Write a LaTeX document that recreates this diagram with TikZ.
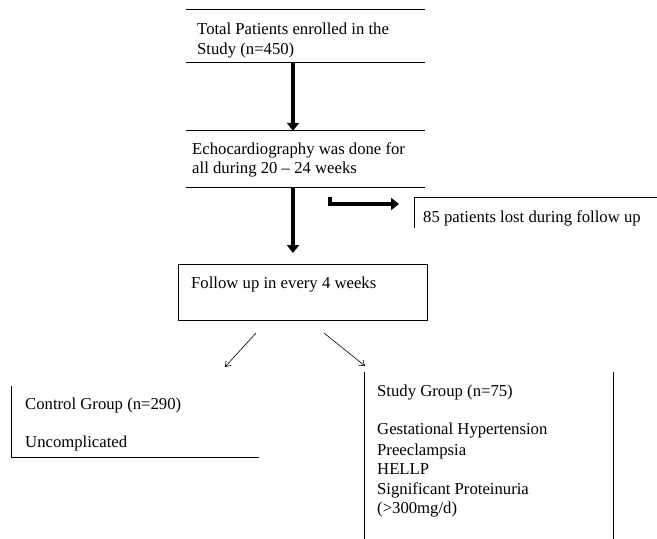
\documentclass[tikz,border=0pt]{standalone}
\usepackage{fontspec}
\setmainfont{Liberation Serif}
\usetikzlibrary{arrows.meta}
\begin{document}
\begin{tikzpicture}[x=1pt,y=-1pt,
  frame/.style={draw=none,minimum width=#1,inner sep=0pt},
  edge/.style={line width=0.8pt,black},
  lbl/.style={anchor=base west,inner sep=0pt,font=\fontsize{16.7}{19.7}\selectfont},
  thick arrow/.style={line width=4.6pt,-{Triangle[width=12pt,length=8pt]}},
  thin arrow/.style={line width=0.6pt,-{Straight Barb[length=5pt,width=7pt]}}]
\useasboundingbox (0,0) rectangle (657,539);
% invisible box frames
\node[frame=239,minimum height=52] (b1) at (305.5,36) {};
\node[frame=239,minimum height=56] (b2) at (305.5,159) {};
\node[frame=248,minimum height=55] (b3) at (303,292.5) {};
\node[frame=242,minimum height=30] (lost) at (536,213) {};
\node[frame=247,minimum height=71] (ctrl) at (135.5,421.5) {};
\node[frame=248,minimum height=167] (study) at (489,455.5) {};
% box edges
\draw[edge] (b1.north west) -- (b1.north east) (b1.south west) -- (b1.south east);
\draw[edge] (b2.north west) -- (b2.north east) (b2.south west) -- (b2.south east);
\draw[edge] (b3.north west) rectangle (b3.south east);
\draw[edge] (lost.south west) -- (lost.north west) -- (lost.north east);
\draw[edge] (ctrl.north west) -- (ctrl.south west) -- (ctrl.south east);
\draw[edge] (study.north west) -- (study.south west) (study.north east) -- (study.south east);
% texts
\node[lbl] (t1a) at (197,34) {Total Patients enrolled in the};
\node[lbl] (t1b) at (197,54) {Study (n=450)};
\node[lbl] (t2a) at (192,154.5) {Echocardiography was done for};
\node[lbl] (t2b) at (192,173) {all during 20 – 24 weeks};
\node[lbl] (t3) at (191,288) {Follow up in every 4 weeks};
\node[lbl] (t4) at (423,222) {85 patients lost during follow up};
\node[lbl] (c1) at (25,409) {Control Group (n=290)};
\node[lbl] (c2) at (25,447) {Uncomplicated};
\node[lbl] (s1) at (377,396) {Study Group (n=75)};
\node[lbl] (s2) at (377,434) {Gestational Hypertension};
\node[lbl] (s3) at (377,455) {Preeclampsia};
\node[lbl] (s4) at (377,474) {HELLP};
\node[lbl] (s5) at (377,494) {Significant Proteinuria};
\node[lbl] (s6) at (377,513) {(>300mg/d)};
% connectors
\coordinate (ax) at (293,0);
\coordinate (a2end) at (293,253);
\coordinate (sideA) at (330,197);
\coordinate (sideB) at (399,204);
\draw[thick arrow] (b1.south -| ax) -- (b2.north -| ax);
\draw[thick arrow] (b2.south -| ax) -- (a2end);
\draw[line width=4.6pt,-{Triangle[width=12pt,length=8pt]}] (sideA) |- (sideB);
\coordinate (l1) at (256,333);
\coordinate (l2) at (225,367);
\coordinate (r1) at (324,333);
\coordinate (r2) at (365,366);
\draw[thin arrow] (l1) -- (l2);
\draw[thin arrow] (r1) -- (r2);
\end{tikzpicture}
\end{document}
